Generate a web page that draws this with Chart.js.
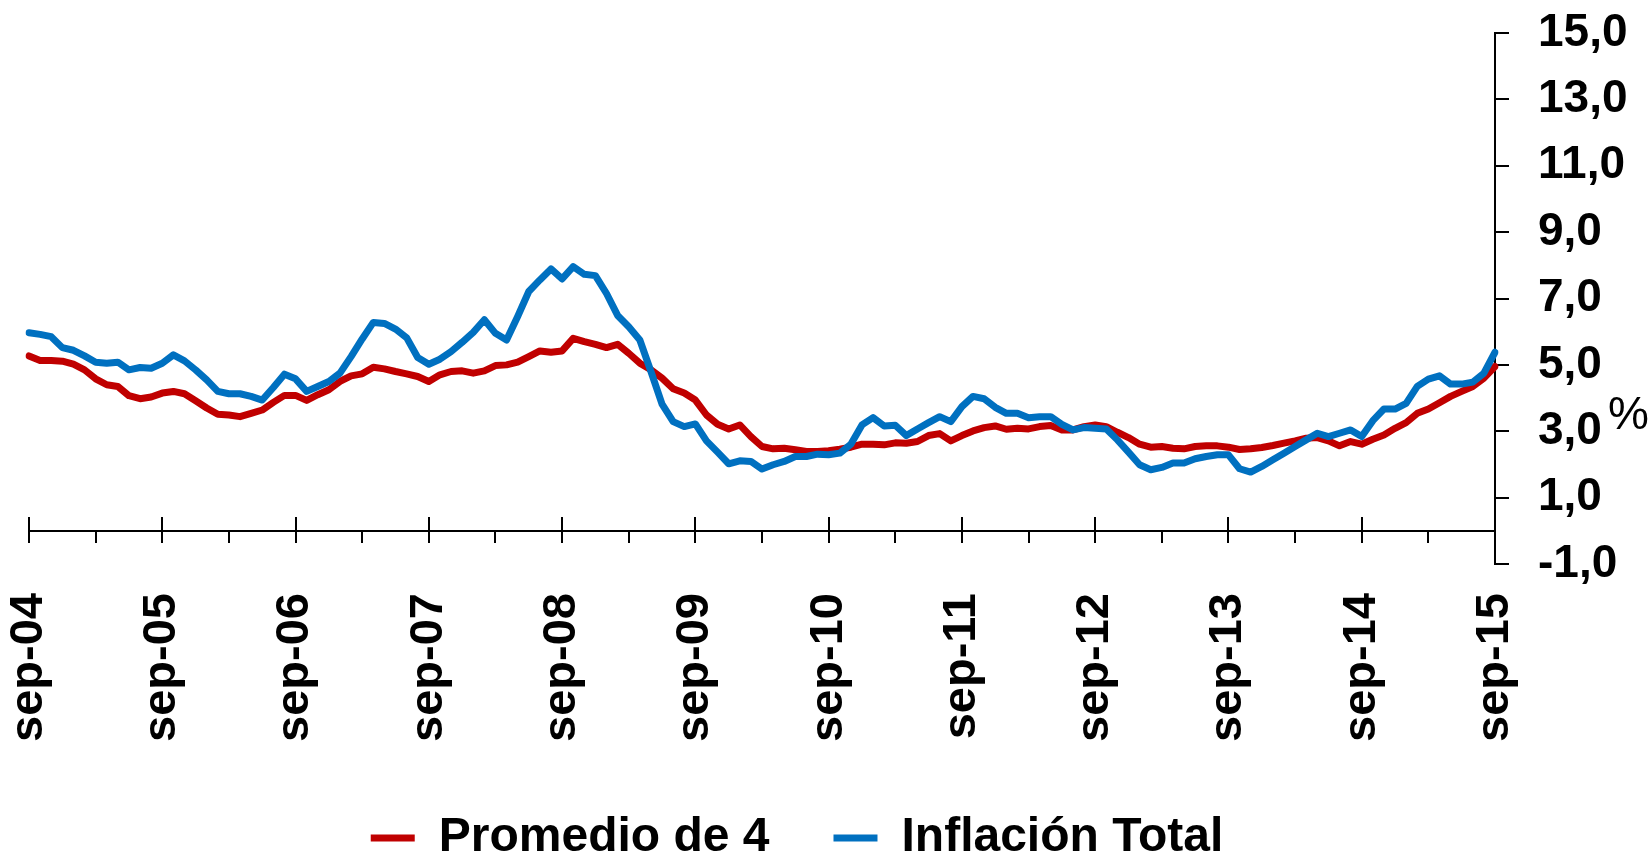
<!DOCTYPE html>
<html>
<head>
<meta charset="utf-8">
<style>
  body { margin: 0; background: #fff; }
  #wrap { position: relative; width: 1652px; height: 852px; }
  #pct { position: absolute; left: 1608px; top: 390px; font: 46px 'Liberation Sans', Arial, sans-serif; line-height: 1; color: #000; }
</style>
</head>
<body>
<div id="wrap">
  <canvas id="inflacion"></canvas>
  <div id="pct">%</div>
</div>
<script src="https://cdn.jsdelivr.net/npm/chart.js@4/dist/chart.umd.min.js"></script>
<script>
// months sep-04 .. sep-15
var monthNames = ['ene','feb','mar','abr','may','jun','jul','ago','sep','oct','nov','dic'];
var categories = [];
for (var k = 0; k <= 132; k++) {
  var m = (8 + k) % 12;
  var yy = 4 + Math.floor((8 + k) / 12);
  categories.push(monthNames[m] + '-' + (yy < 10 ? '0' + yy : '' + yy));
}

var promedio4 = [
  5.27, 5.13, 5.13, 5.11, 5.02, 4.85, 4.58, 4.40, 4.35, 4.07, 3.98, 4.03,
  4.15, 4.20, 4.13, 3.92, 3.70, 3.51, 3.49, 3.44, 3.54, 3.64, 3.87, 4.08,
  4.08, 3.93, 4.10, 4.25, 4.50, 4.67, 4.73, 4.93, 4.88, 4.80, 4.73, 4.65,
  4.50, 4.70, 4.80, 4.82, 4.75, 4.82, 4.98, 5.00, 5.08, 5.25, 5.42, 5.38,
  5.42, 5.80, 5.70, 5.62, 5.52, 5.62, 5.35, 5.05, 4.85, 4.60, 4.28, 4.15,
  3.94, 3.49, 3.21, 3.07, 3.19, 2.84, 2.54, 2.47, 2.49, 2.44, 2.39, 2.39,
  2.41, 2.46, 2.52, 2.61, 2.61, 2.59, 2.65, 2.64, 2.69, 2.87, 2.93, 2.71,
  2.87, 3.01, 3.11, 3.16, 3.06, 3.09, 3.07, 3.14, 3.17, 3.04, 3.04, 3.14,
  3.19, 3.14, 2.97, 2.81, 2.61, 2.52, 2.54, 2.49, 2.47, 2.54, 2.56, 2.56,
  2.52, 2.45, 2.47, 2.51, 2.57, 2.64, 2.71, 2.79, 2.81, 2.71, 2.56, 2.69,
  2.61, 2.76, 2.89, 3.09, 3.26, 3.54, 3.67, 3.86, 4.05, 4.20, 4.35, 4.60,
  4.95
];

var inflacionTotal = [
  5.97, 5.92, 5.85, 5.52, 5.44, 5.27, 5.08, 5.05, 5.08, 4.85, 4.92, 4.90,
  5.05, 5.30, 5.12, 4.85, 4.55, 4.20, 4.13, 4.13, 4.05, 3.94, 4.32, 4.72,
  4.58, 4.20, 4.35, 4.50, 4.75, 5.25, 5.78, 6.28, 6.25, 6.08, 5.82, 5.22,
  5.02, 5.17, 5.40, 5.68, 5.98, 6.36, 5.95, 5.75, 6.46, 7.21, 7.56, 7.89,
  7.59, 7.96, 7.73, 7.69, 7.15, 6.49, 6.15, 5.75, 4.80, 3.82, 3.29, 3.14,
  3.22, 2.71, 2.37, 2.02, 2.11, 2.09, 1.86, 1.99, 2.09, 2.24, 2.24, 2.31,
  2.29, 2.34, 2.61, 3.19, 3.41, 3.16, 3.18, 2.87, 3.07, 3.26, 3.44, 3.29,
  3.74, 4.05, 3.98, 3.72, 3.54, 3.54, 3.41, 3.44, 3.44, 3.21, 3.04, 3.11,
  3.09, 3.07, 2.74, 2.37, 1.99, 1.84, 1.91, 2.04, 2.04, 2.17, 2.24, 2.29,
  2.29, 1.87, 1.77, 1.94, 2.14, 2.34, 2.54, 2.74, 2.94, 2.84, 2.94, 3.04,
  2.84, 3.32, 3.67, 3.67, 3.84, 4.35, 4.57, 4.67, 4.42, 4.42, 4.48, 4.75,
  5.38
];

var yMin = -1, yMax = 15, yStep = 2;

var red = '#C00000';
var blue = '#0070C0';

Chart.defaults.font.family = "'Liberation Sans', Arial, sans-serif";
Chart.defaults.color = '#000';

new Chart(document.getElementById('inflacion'), {
  type: 'line',
  data: {
    labels: categories,
    datasets: [
      {
        label: 'Promedio de 4',
        data: promedio4,
        borderColor: red,
        backgroundColor: red,
        borderWidth: 7,
        borderCapStyle: 'round',
        borderJoinStyle: 'round',
        pointRadius: 0,
        tension: 0,
        order: 1
      },
      {
        label: 'Inflación Total',
        data: inflacionTotal,
        borderColor: blue,
        backgroundColor: blue,
        borderWidth: 7,
        borderCapStyle: 'round',
        borderJoinStyle: 'round',
        pointRadius: 0,
        tension: 0,
        order: 0
      }
    ]
  },
  options: {
    responsive: true,
    maintainAspectRatio: false,
    animation: false,
    // negative left padding only shifts the full-width legend; the plot's left edge comes from the x tick padding
    layout: { padding: { left: -58, top: 33, right: 0, bottom: -20 } },
    plugins: {
      tooltip: { enabled: false },
      legend: {
        position: 'bottom',
        labels: {
          sort: function (a, b) { return a.datasetIndex - b.datasetIndex; },
          usePointStyle: true,
          pointStyle: 'line',
          pointStyleWidth: 44,
          padding: 64,
          color: '#000',
          font: { size: 48, weight: 'bold' }
        }
      }
    },
    scales: {
      x: {
        type: 'category',
        position: 'bottom',
        border: { display: false },
        grid: { display: false, drawTicks: false },
        ticks: {
          autoSkip: false,
          minRotation: 90,
          maxRotation: 90,
          padding: 29,
          color: '#000',
          font: { size: 47, weight: 'bold', lineHeight: 0.4 },
          callback: function (v, i) { return i % 12 === 0 ? this.getLabelForValue(v) : ''; }
        },
        afterFit: function (s) { s.height = 186; }
      },
      xZero: {
        type: 'category',
        position: { y: 0 },
        ticks: { display: false, autoSkip: false },
        border: { color: '#000', width: 2 },
        grid: {
          drawOnChartArea: false,
          tickLength: 11,
          lineWidth: 2,
          color: function (c) { return c.index % 6 === 0 ? '#000' : 'rgba(0,0,0,0)'; }
        }
      },
      xMajor: {
        type: 'category',
        position: { y: 0 },
        ticks: { display: false, autoSkip: false },
        border: { display: false },
        grid: {
          drawOnChartArea: false,
          tickLength: -14,
          lineWidth: 2,
          color: function (c) { return c.index % 12 === 0 ? '#000' : 'rgba(0,0,0,0)'; }
        }
      },
      y: {
        type: 'linear',
        position: 'right',
        min: yMin,
        max: yMax,
        border: { color: '#000', width: 2 },
        grid: { drawOnChartArea: false, tickLength: 14, lineWidth: 2, color: '#000' },
        ticks: {
          stepSize: yStep,
          padding: 29,
          color: '#000',
          font: { size: 46, weight: 'bold', lineHeight: 0.1 },
          callback: function (v) { return v.toFixed(1).replace('.', ','); }
        },
        afterFit: function (s) { s.width = 157; }
      }
    }
  }
});
</script>
</body>
</html>
